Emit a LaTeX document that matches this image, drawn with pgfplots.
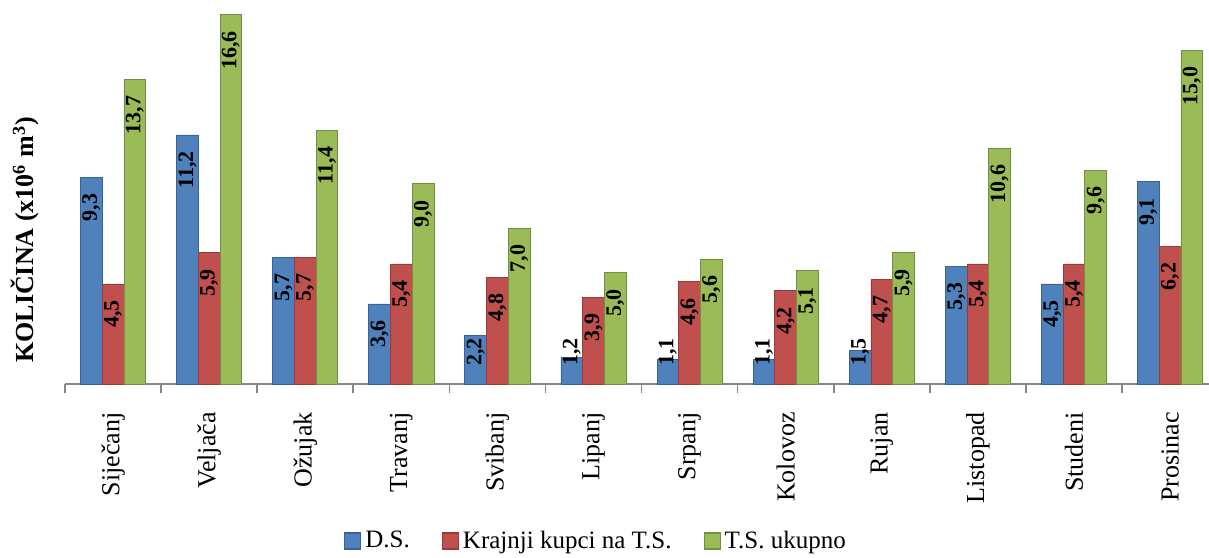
\documentclass[border=0pt]{standalone}
\usepackage{pgfplots}
\pgfplotsset{compat=1.18}
\usepackage{fontspec}
\setmainfont{Liberation Serif}
\definecolor{cblue}{HTML}{4F81BD}
\definecolor{cred}{HTML}{C0504D}
\definecolor{cgreen}{HTML}{9BBB59}
\definecolor{eblue}{HTML}{3A6293}
\definecolor{ered}{HTML}{943C3A}
\definecolor{egreen}{HTML}{72903F}
\definecolor{axgrey}{HTML}{868686}
\begin{document}
\begin{tikzpicture}
\begin{axis}[
  scale only axis,
  width=572pt, height=192pt,
  xmin=-0.5, xmax=11.405,
  ymin=0, ymax=17.27,
  enlargelimits=false,
  axis x line*=bottom,
  axis y line*=left,
  y axis line style={draw=none},
  x axis line style={draw=axgrey, line width=0.8pt},
  ytick=\empty,
  xtick={0,...,11},
  xticklabels={Siječanj,Veljača,Ožujak,Travanj,Svibanj,Lipanj,Srpanj,Kolovoz,Rujan,Listopad,Studeni,Prosinac},
  major tick length=0pt,
  minor xtick={-0.5,0.5,...,10.5},
  minor tick length=4.5pt,
  tick align=outside,
  minor tick style={draw=axgrey, line width=0.8pt},
  xticklabel style={rotate=90, anchor=east, font=\fontsize{13}{15}\selectfont, inner sep=0pt},
  xticklabel shift=14pt,
  ylabel={KOLIČINA (x10\textsuperscript{6} m\textsuperscript{3})},
  ylabel style={at={(axis description cs:-0.035,0.375)}, anchor=center, font=\fontsize{13}{15}\selectfont\bfseries},
  ybar=0pt,
  bar width=0.226,
  visualization depends on={y \as \yval},
  nodes near coords,
  nodes near coords style={yshift={max(-8pt,23pt-\yval*11.117pt)}, rotate=90, anchor=east, inner xsep=0pt, font=\fontsize{11}{13}\selectfont\bfseries, text=black},
  /pgf/number format/.cd, fixed, fixed zerofill, precision=1, use comma, assume math mode=true,
  /pgfplots/.cd,
  legend style={at={(axis description cs:0.465,-0.409)}, anchor=center, draw=none, legend columns=3,
    font=\fontsize{12.5}{14}\selectfont, /tikz/every even column/.append style={column sep=14pt}},
  legend image code/.code={\draw[#1, line width=0.6pt] (0pt,-4pt) rectangle (8pt,4pt);},
]
\addplot[fill=cblue, draw=eblue, bar shift=-0.226] coordinates {
(0,9.3) (1,11.2) (2,5.7) (3,3.6) (4,2.2) (5,1.2) (6,1.1) (7,1.1) (8,1.5) (9,5.3) (10,4.5) (11,9.1)};
\addplot[fill=cred, draw=ered, bar shift=0] coordinates {
(0,4.5) (1,5.9) (2,5.7) (3,5.4) (4,4.8) (5,3.9) (6,4.6) (7,4.2) (8,4.7) (9,5.4) (10,5.4) (11,6.2)};
\addplot[fill=cgreen, draw=egreen, bar shift=0.226] coordinates {
(0,13.7) (1,16.6) (2,11.4) (3,9.0) (4,7.0) (5,5.0) (6,5.6) (7,5.1) (8,5.9) (9,10.6) (10,9.6) (11,15.0)};
\legend{D.S.,Krajnji kupci na T.S.,T.S. ukupno}
\end{axis}
\pgfresetboundingbox
\path (-32.5pt,-86.5pt) rectangle (572pt,192pt);
\end{tikzpicture}
\end{document}
